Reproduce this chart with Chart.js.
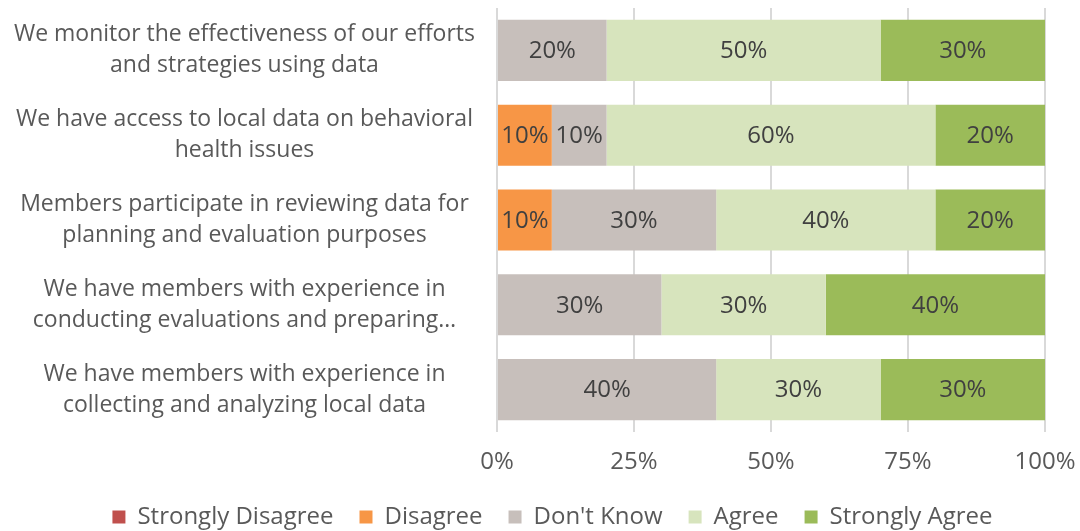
<!DOCTYPE html>
<html>
<head>
<meta charset="utf-8">
<script src="https://cdn.jsdelivr.net/npm/chart.js@4/dist/chart.umd.min.js"></script>
<style>
  html, body { margin: 0; padding: 0; background: #fff; }
  #wrap { width: 1080px; height: 531px; }
</style>
</head>
<body>
<div id="wrap"><canvas id="chart" width="1080" height="531"></canvas></div>
<script>
const categories = [
    ['We monitor the effectiveness of our efforts', 'and strategies using data'],
    ['We have access to local data on behavioral', 'health issues'],
    ['Members participate in reviewing data for', 'planning and evaluation purposes'],
    ['We have members with experience in', 'conducting evaluations and preparing\u2026'],
    ['We have members with experience in', 'collecting and analyzing local data']
];

const stronglyDisagree = [0, 0, 0, 0, 0];
const disagree = [0, 10, 10, 0, 0];
const dontKnow = [20, 10, 30, 30, 40];
const agree = [50, 60, 40, 30, 30];
const stronglyAgree = [30, 20, 20, 40, 30];

const tickValues = [0, 25, 50, 75, 100];

const font = '"Open Sans", Lato, sans-serif';

// writes the % value in the middle of each segment
const barLabels = {
    id: 'barLabels',
    afterDatasetsDraw(chart) {
        const ctx = chart.ctx;
        ctx.save();
        ctx.font = '24px ' + font;
        ctx.fillStyle = '#404040';
        ctx.textAlign = 'center';
        ctx.textBaseline = 'middle';
        chart.data.datasets.forEach((ds, i) => {
            const meta = chart.getDatasetMeta(i);
            if (meta.hidden) return;
            meta.data.forEach((bar, j) => {
                const v = ds.data[j];
                if (!v) return;
                const p = bar.getCenterPoint();
                ctx.fillText(v + '%', p.x, p.y + 1);
            });
        });
        ctx.restore();
    }
};

// legend uses labels.padding both between items and above/below them,
// so keep the item gap but force a smaller box, then nudge it under the plot
const legendFix = {
    id: 'legendFix',
    beforeLayout(chart) {
        const lg = chart.legend;
        if (!lg || lg._fitWrapped) return;
        const fit = lg.fit;
        lg.fit = function () {
            fit.call(this);
            this.height = 55;
        };
        lg._fitWrapped = true;
    },
    afterLayout(chart) {
        const lg = chart.legend;
        if (!lg) return;
        lg.left += 30;
        lg.right += 30;
        lg.top += 3;
        lg.bottom += 3;
    }
};

new Chart(document.getElementById('chart'), {
    type: 'bar',
    data: {
        labels: categories,
        datasets: [
            { label: 'Strongly Disagree', data: stronglyDisagree, backgroundColor: '#C0504D' },
            { label: 'Disagree', data: disagree, backgroundColor: '#F79646' },
            { label: "Don't Know", data: dontKnow, backgroundColor: '#C7BFBB' },
            { label: 'Agree', data: agree, backgroundColor: '#D7E4BD' },
            { label: 'Strongly Agree', data: stronglyAgree, backgroundColor: '#9BBB59' }
        ]
    },
    options: {
        indexAxis: 'y',
        responsive: false,
        animation: false,
        categoryPercentage: 1,
        barPercentage: 0.72,
        layout: { padding: { top: 8, right: 35, left: 0, bottom: 0 } },
        plugins: {
            legend: {
                position: 'bottom',
                labels: {
                    font: { family: font, size: 24 },
                    color: '#595959',
                    boxWidth: 13,
                    boxHeight: 13,
                    padding: 26
                }
            },
            tooltip: { enabled: false }
        },
        scales: {
            x: {
                stacked: true,
                min: 0,
                max: 100,
                afterBuildTicks(axis) {
                    axis.ticks = tickValues.map(v => ({ value: v }));
                },
                afterFit(axis) {
                    axis.height = 44;
                    axis.paddingLeft = 0;
                    axis.paddingRight = 0;
                },
                ticks: {
                    callback: v => v + '%',
                    font: { family: font, size: 24 },
                    color: '#595959',
                    padding: 16,
                    maxRotation: 0
                },
                grid: { color: '#D9D9D9', lineWidth: 2, drawTicks: false },
                border: { display: false }
            },
            y: {
                stacked: true,
                afterFit(axis) {
                    axis.width = 497;
                    axis.paddingTop = 0;
                    axis.paddingBottom = 0;
                },
                ticks: {
                    font: { family: font, size: 23, lineHeight: 1.35 },
                    color: '#595959',
                    crossAlign: 'center',
                    padding: 22
                },
                grid: { display: false, drawTicks: false },
                border: { display: false }
            }
        }
    },
    plugins: [barLabels, legendFix]
});
</script>
</body>
</html>
